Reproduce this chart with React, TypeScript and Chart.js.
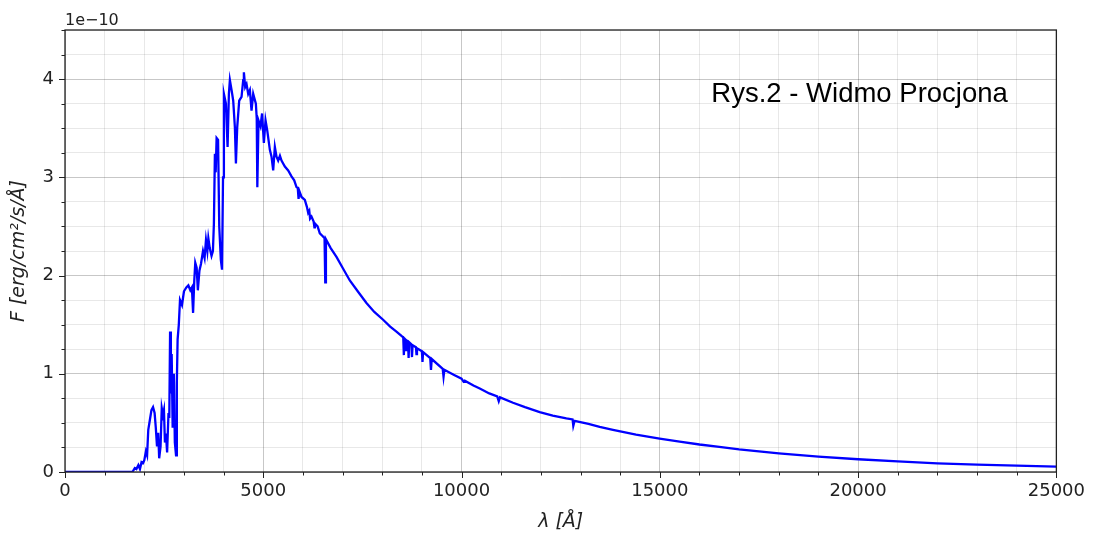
import React, { useEffect, useRef } from 'react';
import { Chart, registerables } from 'chart.js';

Chart.register(...registerables);

// Wavelength in Å
const WAVELENGTH = [
  0, 500, 1000, 1500, 1700, 1760, 1800, 1850, 1890, 1930, 1970, 2000, 2040, 2070, 2100, 2140, 2180, 2220, 2260, 2290,
  2320, 2350, 2375, 2410, 2440, 2470, 2495, 2520, 2545, 2575, 2610, 2630, 2650, 2670, 2690, 2715, 2745, 2770, 2800, 2820,
  2840, 2870, 2900, 2950, 3000, 3060, 3110, 3160, 3200, 3230, 3260, 3285, 3320, 3350, 3390, 3430, 3480, 3520, 3555, 3590,
  3615, 3650, 3695, 3730, 3755, 3780, 3800, 3823, 3860, 3890, 3930, 3960, 3985, 4007, 4058, 4100, 4133, 4158, 4200, 4242,
  4284, 4310, 4343, 4393, 4452, 4494, 4511, 4544, 4578, 4620, 4662, 4704, 4746, 4813, 4835, 4850, 4880, 4930, 4970, 5015,
  5057, 5099, 5166, 5208, 5250, 5292, 5334, 5376, 5420, 5460, 5544, 5628, 5712, 5780, 5838, 5870, 5890, 5910, 5964, 6048,
  6100, 6132, 6160, 6180, 6216, 6270, 6290, 6300, 6370, 6426, 6500, 6545, 6563, 6580, 6700, 6846, 7000, 7182, 7400, 7602,
  7800, 8022, 8200, 8358, 8500, 8530,
  8545, 8560, 8585, 8600, 8615, 8650, 8665, 8680, 8735, 8750, 8765, 8850, 8863, 8876, 9000, 9015, 9030, 9210, 9229, 9248,
  9525, 9546, 9567, 9800, 10000, 10049, 10080, 10300, 10459, 10700, 10900, 10938, 10970, 11298, 11600, 11971, 12300, 12643, 12800, 12818,
  12850, 13200, 13483, 13818, 14400, 14995, 15500, 16000, 16500, 17000, 17500, 18000, 19000, 20000, 21000, 22000, 23000, 24000, 25000,
];

// Flux in units of 1e-10 erg/cm^2/s/Å
const FLUX = [
  0, 0, 0, 0, 0, 0.04, 0.03, 0.07, 0.03, 0.10, 0.09, 0.12, 0.21, 0.17, 0.43, 0.53, 0.63, 0.66, 0.60, 0.45,
  0.26, 0.40, 0.14, 0.26, 0.65, 0.58, 0.63, 0.30, 0.39, 0.20, 0.60, 0.55, 1.43, 0.80, 1.20, 0.45, 1.00, 0.30, 0.17, 0.90,
  1.35, 1.50, 1.75, 1.70, 1.84, 1.88, 1.90, 1.85, 1.88, 1.62, 1.95, 2.13, 2.08, 1.85, 2.05, 2.12, 2.25, 2.18, 2.36, 2.25,
  2.38, 2.28, 2.20, 2.25, 2.53, 3.24, 3.05, 3.40, 3.38, 2.50, 2.16, 2.06, 3.00, 3.85, 3.75, 3.31, 3.85, 3.99, 3.89, 3.78,
  3.51, 3.14, 3.51, 3.78, 3.82, 3.99, 4.07, 3.92, 3.95, 3.85, 3.89, 3.68, 3.85, 3.75, 3.60, 2.90, 3.58, 3.52, 3.65, 3.35,
  3.58, 3.48, 3.28, 3.21, 3.07, 3.31, 3.21, 3.17, 3.22, 3.17, 3.11, 3.07, 3.01, 2.97, 2.90, 2.89, 2.78, 2.86, 2.80, 2.77,
  2.70, 2.64, 2.66, 2.58, 2.60, 2.55, 2.49, 2.53, 2.50, 2.43, 2.40, 2.38, 1.93, 2.37, 2.28, 2.19, 2.08, 1.95, 1.83, 1.72,
  1.63, 1.55, 1.48, 1.43, 1.38, 1.37,
  1.19, 1.36, 1.35, 1.24, 1.34, 1.33, 1.16, 1.32, 1.30, 1.17, 1.29, 1.27, 1.20, 1.26, 1.23, 1.12, 1.22, 1.16, 1.04, 1.15,
  1.05, 0.97, 1.04, 0.99, 0.95, 0.92, 0.93, 0.88, 0.85, 0.80, 0.77, 0.72, 0.76, 0.705, 0.66, 0.61, 0.575, 0.546, 0.535, 0.47,
  0.52, 0.49, 0.46, 0.43, 0.38, 0.34, 0.31, 0.28, 0.255, 0.23, 0.21, 0.19, 0.156, 0.13, 0.109, 0.088, 0.075, 0.065, 0.055,
];

const X_MAJOR_TICKS = [0, 5000, 10000, 15000, 20000, 25000];
const Y_MAJOR_TICKS = [0, 1, 2, 3, 4];
const OFFSET_LABEL = '1e\u221210';
const ANNOTATION = 'Rys.2 - Widmo Procjona';
const ANNOTATION_POS = { x: 16300, y: 3.77 };
const X_TITLE = 'λ [Å]';
const Y_TITLE = 'F [erg/cm²/s/Å]';

const MAJOR_GRID = 'rgba(0,0,0,0.22)';
const MINOR_GRID = 'rgba(0,0,0,0.09)';
const TEXT = '#222222';

const framePlugin = {
  id: 'framePlugin',
  afterDraw(chart: any) {
    const { ctx, chartArea: a, scales } = chart;
    const xs = scales.x;
    const ys = scales.y;
    ctx.save();
    ctx.strokeStyle = TEXT;
    ctx.lineWidth = 1;
    xs.ticks.forEach((t: any) => {
      const p = Math.round(xs.getPixelForValue(t.value)) + 0.5;
      const len = X_MAJOR_TICKS.includes(t.value) ? 6 : 3.5;
      ctx.beginPath();
      ctx.moveTo(p, a.bottom);
      ctx.lineTo(p, a.bottom + len);
      ctx.stroke();
    });
    ys.ticks.forEach((t: any) => {
      const p = Math.round(ys.getPixelForValue(t.value)) + 0.5;
      const len = Y_MAJOR_TICKS.includes(t.value) ? 6 : 3.5;
      ctx.beginPath();
      ctx.moveTo(a.left, p);
      ctx.lineTo(a.left - len, p);
      ctx.stroke();
    });
    ctx.lineWidth = 1.3;
    ctx.strokeRect(a.left, a.top, a.right - a.left, a.bottom - a.top);

    ctx.font = '16px "DejaVu Sans"';
    ctx.fillStyle = TEXT;
    ctx.textAlign = 'left';
    ctx.textBaseline = 'alphabetic';
    ctx.fillText(OFFSET_LABEL, a.left, a.top - 5);

    ctx.font = '27.5px "Liberation Sans", Arial, sans-serif';
    ctx.fillStyle = '#000000';
    ctx.fillText(ANNOTATION, xs.getPixelForValue(ANNOTATION_POS.x), ys.getPixelForValue(ANNOTATION_POS.y));
    ctx.restore();
  },
};

export default function App() {
  const canvasRef = useRef<HTMLCanvasElement | null>(null);

  useEffect(() => {
    const canvas = canvasRef.current;
    if (!canvas) return;
    const points = WAVELENGTH.map((w, i) => ({ x: w, y: FLUX[i] }));
    const chart = new Chart(canvas, {
      type: 'line',
      data: {
        datasets: [
          {
            data: points,
            borderColor: '#0000ff',
            borderWidth: 2.3,
            pointRadius: 0,
            tension: 0,
            fill: false,
          },
        ],
      },
      options: {
        animation: false,
        responsive: false,
        maintainAspectRatio: false,
        layout: { padding: { top: 30, right: 37, left: 0, bottom: 0 } },
        plugins: { legend: { display: false }, tooltip: { enabled: false } },
        scales: {
          x: {
            type: 'linear',
            min: 0,
            max: 25000,
            afterFit: (s: any) => { s.height = 67; },
            border: { display: false },
            grid: {
              drawTicks: false,
              color: (c: any) => (c.tick && X_MAJOR_TICKS.includes(c.tick.value) ? MAJOR_GRID : MINOR_GRID),
              lineWidth: 1,
            },
            ticks: {
              stepSize: 1000,
              autoSkip: false,
              maxRotation: 0,
              padding: 9,
              color: TEXT,
              font: { family: '"DejaVu Sans"', size: 18 },
              callback: (v: any) => (X_MAJOR_TICKS.includes(Number(v)) ? String(v) : ''),
            },
            title: {
              display: true,
              text: X_TITLE,
              color: TEXT,
              font: { family: '"DejaVu Sans"', size: 19, style: 'italic' },
              padding: { top: 0, bottom: 6 },
            },
          },
          y: {
            type: 'linear',
            min: 0,
            max: 4.5,
            afterFit: (s: any) => { s.width = 65; },
            border: { display: false },
            grid: {
              drawTicks: false,
              color: (c: any) => (c.tick && Y_MAJOR_TICKS.includes(c.tick.value) ? MAJOR_GRID : MINOR_GRID),
              lineWidth: 1,
            },
            ticks: {
              stepSize: 0.25,
              autoSkip: false,
              padding: 11,
              color: TEXT,
              font: { family: '"DejaVu Sans"', size: 18 },
              callback: (v: any) => (Y_MAJOR_TICKS.includes(Number(v)) ? String(v) : ''),
            },
            title: {
              display: true,
              text: Y_TITLE,
              color: TEXT,
              font: { family: '"DejaVu Sans"', size: 19, style: 'italic' },
              padding: { top: 8, bottom: 0 },
            },
          },
        },
      },
      plugins: [framePlugin],
    });
    return () => chart.destroy();
  }, []);

  return (
    <div style={{ position: 'absolute', left: 0, top: 0, width: 1094, height: 539, background: '#ffffff' }}>
      <canvas ref={canvasRef} width={1094} height={539} />
    </div>
  );
}
